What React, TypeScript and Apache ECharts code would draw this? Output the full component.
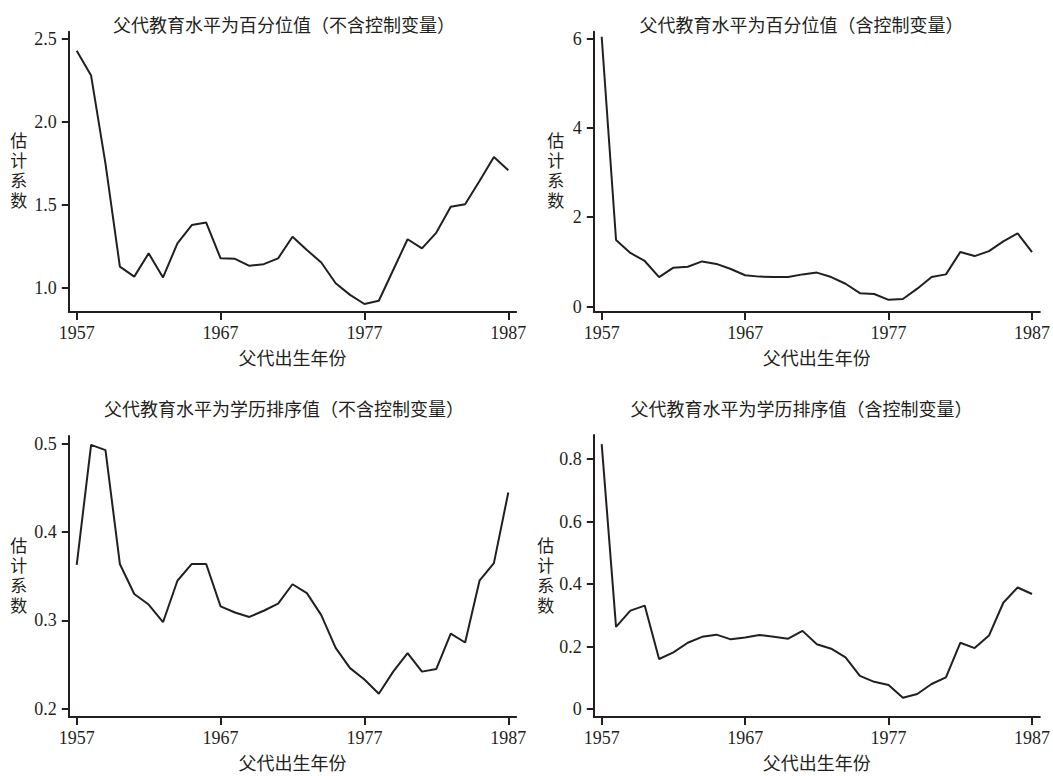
import React, { useEffect, useRef } from "react";
import * as echarts from "echarts";

const years = [
  1957, 1958, 1959, 1960, 1961, 1962, 1963, 1964, 1965, 1966, 1967, 1968, 1969, 1970, 1971, 1972,
  1973, 1974, 1975, 1976, 1977, 1978, 1979, 1980, 1981, 1982, 1983, 1984, 1985, 1986, 1987,
];
const xTicks = [1957, 1967, 1977, 1987];

const pctNoCtrl = [
  2.43, 2.28, 1.75, 1.13, 1.07, 1.21, 1.065, 1.27, 1.38, 1.395, 1.18, 1.177, 1.135, 1.145, 1.18,
  1.31, 1.23, 1.155, 1.03, 0.96, 0.905, 0.925, 1.11, 1.295, 1.24, 1.335, 1.49, 1.505, 1.645, 1.79,
  1.71,
];
const pctCtrl = [
  6.04, 1.49, 1.2, 1.02, 0.66, 0.87, 0.89, 1.01, 0.955, 0.84, 0.7, 0.67, 0.66, 0.66, 0.72, 0.76,
  0.66, 0.51, 0.3, 0.28, 0.15, 0.17, 0.4, 0.66, 0.72, 1.22, 1.13, 1.24, 1.46, 1.64, 1.22,
];
const rankNoCtrl = [
  0.363, 0.499, 0.493, 0.364, 0.33, 0.318, 0.298, 0.345, 0.364, 0.364, 0.316, 0.309, 0.304, 0.311,
  0.319, 0.341, 0.331, 0.306, 0.269, 0.246, 0.233, 0.217, 0.242, 0.263, 0.242, 0.245, 0.285, 0.275,
  0.345, 0.365, 0.445,
];
const rankCtrl = [
  0.848, 0.263, 0.315, 0.331, 0.16, 0.181, 0.212, 0.231, 0.238, 0.223, 0.229, 0.237, 0.231, 0.225,
  0.25, 0.207, 0.193, 0.165, 0.106, 0.087, 0.077, 0.036, 0.048, 0.08, 0.101, 0.212, 0.195, 0.235,
  0.34, 0.389, 0.368,
];

const titles = [
  "父代教育水平为百分位值（不含控制变量）",
  "父代教育水平为百分位值（含控制变量）",
  "父代教育水平为学历排序值（不含控制变量）",
  "父代教育水平为学历排序值（含控制变量）",
];
const yTicks1 = [1.0, 1.5, 2.0, 2.5];
const yTicks2 = [0, 2, 4, 6];
const yTicks3 = [0.2, 0.3, 0.4, 0.5];
const yTicks4 = [0, 0.2, 0.4, 0.6, 0.8];
const xName = "父代出生年份";
const yName = "估\n计\n系\n数";

const INK = "#231f20";
const FONT = "'Liberation Serif', 'Noto Sans CJK SC', serif";

export default function App() {
  const ref = useRef<HTMLDivElement>(null);
  useEffect(() => {
    if (!ref.current) return;
    const chart = echarts.init(ref.current, undefined, { renderer: "svg" });

    const grids = [
      { left: 68.8, top: 31.7, width: 447.4, height: 280.3 },
      { left: 593.8, top: 31.7, width: 446.4, height: 280.3 },
      { left: 68.8, top: 436, width: 447.4, height: 281 },
      { left: 593.8, top: 435, width: 446.4, height: 282 },
    ];
    const panels = [
      { data: pctNoCtrl, ticks: yTicks1, min: 0.857, max: 2.544, fmt: (v: number) => v.toFixed(1), gap: 50 },
      { data: pctCtrl, ticks: yTicks2, min: -0.122, max: 6.153, fmt: (v: number) => String(v), gap: 38 },
      { data: rankNoCtrl, ticks: yTicks3, min: 0.1906, max: 0.509, fmt: (v: number) => v.toFixed(1), gap: 50 },
      { data: rankCtrl, ticks: yTicks4, min: -0.0256, max: 0.877, fmt: (v: number) => (v === 0 ? "0" : v.toFixed(1)), gap: 48 },
    ];

    const axisLine = { show: true, onZero: false, lineStyle: { color: INK, width: 2 } };
    const axisTickBase = { show: true, inside: false, length: 7, lineStyle: { color: INK, width: 2 } };

    const titlePos = [
      [284, 25.5],
      [801.5, 25.5],
      [284, 410],
      [801.5, 410],
    ];

    const option: any = {
      animation: false,
      backgroundColor: "#ffffff",
      grid: grids.map((g) => ({ ...g, containLabel: false })),
      xAxis: grids.map((_, i) => ({
        type: "value",
        gridIndex: i,
        min: 1956.45,
        max: 1987.55,
        axisLine,
        axisTick: { ...axisTickBase, length: 8, customValues: xTicks },
        axisLabel: {
          customValues: xTicks,
          color: INK,
          fontSize: 18,
          fontFamily: FONT,
          margin: 12,
          formatter: (v: number) => String(v),
        },
        splitLine: { show: false },
        name: xName,
        nameLocation: "middle",
        nameGap: 38,
        nameTextStyle: { color: INK, fontSize: 18, fontFamily: FONT },
      })),
      yAxis: panels.map((p, i) => ({
        type: "value",
        gridIndex: i,
        min: p.min,
        max: p.max,
        axisLine,
        axisTick: { ...axisTickBase, customValues: p.ticks },
        axisLabel: {
          customValues: p.ticks,
          color: INK,
          fontSize: 18,
          fontFamily: FONT,
          margin: 12,
          formatter: p.fmt,
        },
        splitLine: { show: false },
        name: yName,
        nameLocation: "middle",
        nameRotate: 0,
        nameGap: p.gap,
        nameTextStyle: { color: INK, fontSize: 17, fontFamily: FONT, lineHeight: 20, align: "center" },
      })),
      series: panels.map((p, i) => ({
        type: "line",
        xAxisIndex: i,
        yAxisIndex: i,
        data: years.map((y, k) => [y, p.data[k]]),
        showSymbol: false,
        symbol: "none",
        lineStyle: { color: INK, width: 2 },
        itemStyle: { color: INK },
      })),
      graphic: titlePos.map((pos, i) => ({
        type: "text",
        x: pos[0],
        y: pos[1],
        style: {
          text: titles[i],
          fill: INK,
          fontSize: 18,
          fontFamily: FONT,
          align: "center",
          verticalAlign: "middle",
        },
      })),
    };
    chart.setOption(option);
    return () => chart.dispose();
  }, []);
  return (
    <div
      ref={ref}
      style={{ position: "absolute", left: 0, top: 0, width: 1053, height: 776, background: "#fff" }}
    />
  );
}
